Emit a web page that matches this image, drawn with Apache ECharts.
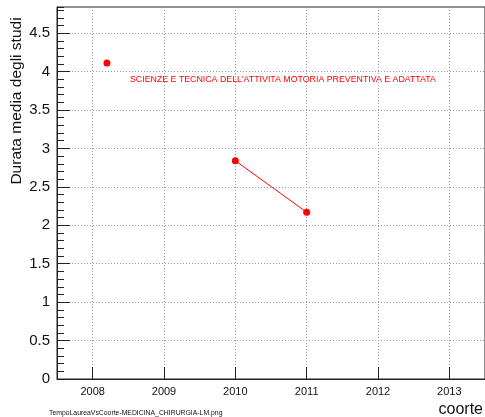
<!DOCTYPE html>
<html><head><meta charset="utf-8">
<script src="https://cdn.jsdelivr.net/npm/echarts@6/dist/echarts.min.js"></script>
<style>html,body{margin:0;padding:0;background:#fff}#c{width:485px;height:417px}</style>
</head><body><div id="c"></div>
<script>
const cohorts = [2008.2, 2010, 2011];
const durations = [4.11, 2.84, 2.17];
const segment = [0, 1, 1];
const xTickYears = [2008, 2009, 2010, 2011, 2012, 2013];
const xRange = [2007.5, 2013.5];
const yRange = [0, 4.84];
const courseLabel = "SCIENZE E TECNICA DELL'ATTIVITA MOTORIA PREVENTIVA E ADATTATA";
const yTitle = "Durata media degli studi";
const xTitle = "coorte";
const fileName = "TempoLaureaVsCoorte-MEDICINA_CHIRURGIA-LM.png";

const data = [];
for (let i = 0; i < cohorts.length; i++) {
  if (i > 0 && segment[i] !== segment[i - 1]) data.push(['-', '-']);
  data.push([cohorts[i], durations[i]]);
}

const font = '"Liberation Sans", Arial, sans-serif';
const chart = echarts.init(document.getElementById('c'), null, {renderer: 'canvas'});
chart.setOption({
  animation: false,
  grid: {left: 57, top: 7, right: -2, bottom: 38, show: true, borderColor: '#222', borderWidth: 1, backgroundColor: 'transparent'},
  xAxis: {
    type: 'value', min: xRange[0], max: xRange[1],
    axisLine: {show: true, onZero: false, lineStyle: {color: '#222', width: 1}},
    axisTick: {show: true, inside: true, length: 12, customValues: xTickYears, lineStyle: {color: '#222'}},
    axisLabel: {customValues: xTickYears, fontFamily: font, fontSize: 11, color: '#111', margin: 7, formatter: v => String(v)},
    splitLine: {show: true, lineStyle: {color: '#999', type: [1, 2], width: 1}}
  },
  yAxis: [{
    type: 'value', min: yRange[0], max: yRange[1], interval: 0.5,
    axisLine: {show: true, onZero: false, lineStyle: {color: '#222', width: 1}},
    axisTick: {show: true, inside: true, length: 13, lineStyle: {color: '#222'}},
    axisLabel: {fontFamily: font, fontSize: 15, color: '#111', margin: 7, showMaxLabel: false},
    splitLine: {show: true, lineStyle: {color: '#999', type: [1, 2], width: 1}}
  }, {
    type: 'value', min: yRange[0], max: yRange[1], interval: 0.1, position: 'left',
    axisLine: {show: false},
    axisTick: {show: true, inside: true, length: 7, lineStyle: {color: '#222'}},
    axisLabel: {show: false},
    splitLine: {show: false}
  }],
  series: [{
    type: 'line', data: data, connectNulls: false,
    symbol: 'circle', symbolSize: 7,
    itemStyle: {color: '#ff0000'},
    lineStyle: {color: '#ff0000', width: 1}
  }],
  graphic: [
    {type: 'text', x: 130, y: 80, style: {text: courseLabel, font: '8.8px ' + font, fill: '#ff0000', textAlign: 'left', textVerticalAlign: 'middle'}},
    {type: 'text', x: 17, y: 101, rotation: Math.PI / 2, style: {text: yTitle, font: '15.5px ' + font, fill: '#111', textAlign: 'center', textVerticalAlign: 'middle'}},
    {type: 'text', x: 483, y: 410, style: {text: xTitle, font: '16px ' + font, fill: '#111', textAlign: 'right', textVerticalAlign: 'middle'}},
    {type: 'text', x: 49, y: 413, style: {text: fileName, font: '6.85px ' + font, fill: '#111', textAlign: 'left', textVerticalAlign: 'middle'}}
  ]
});
</script></body></html>
